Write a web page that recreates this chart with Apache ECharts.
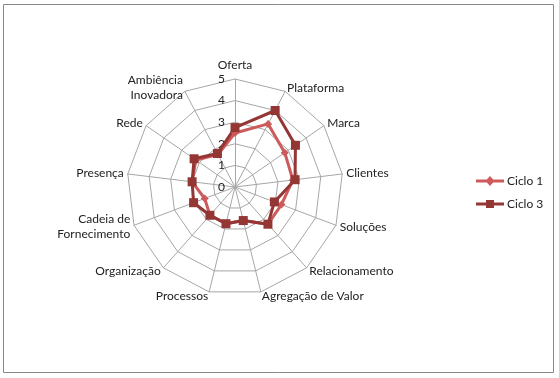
<!DOCTYPE html>
<html>
<head>
<meta charset="utf-8">
<script src="https://cdn.jsdelivr.net/npm/echarts@6/dist/echarts.min.js"></script>
<style>
  html, body { margin: 0; padding: 0; background: #fff; }
  #chart { width: 559px; height: 378px; }
</style>
</head>
<body>
<div id="chart"></div>
<script>
// eixos no sentido horario, a partir do topo
var categories = ['Oferta', 'Plataforma', 'Marca', 'Clientes', 'Soluções', 'Relacionamento',
  'Agregação de Valor', 'Processos', 'Organização', 'Cadeia de\nFornecimento', 'Presença', 'Rede',
  'Ambiência\nInovadora']
var ciclo1 = [2.5, 3.3, 2.8, 2.7, 2.3, 2.3, 1.6, 1.75, 1.75, 1.5, 2.0, 2.2, 1.7]
var ciclo3 = [2.75, 4.0, 3.4, 2.8, 1.95, 2.3, 1.6, 1.75, 1.75, 2.05, 2.0, 2.3, 1.75]
var maxValue = 5

// echarts desenha o radar no sentido anti-horario
function ccw (arr) {
  return [arr[0]].concat(arr.slice(1).reverse())
}

// icones da legenda: linha + marcador (caixa 28x12)
var iconDiamond = 'path://M0,4.5 L28,4.5 L28,7.5 L0,7.5 Z M14,1 L18.5,6 L14,11 L9.5,6 Z M0,0 L0,0.01 M28,12 L28,12.01'
var iconSquare = 'path://M0,4.5 L28,4.5 L28,7.5 L0,7.5 Z M10,2 L18,2 L18,10 L10,10 Z M0,0 L0,0.01 M28,12 L28,12.01'

var myChart = echarts.init(document.getElementById('chart'))
var indicator = ccw(categories).map(function (name, i) {
  var ind = { name: name, min: 0, max: maxValue }
  if (i === 0) {
    ind.axisLabel = { show: true, color: '#222', fontSize: 12, fontFamily: 'Lato', margin: 10 }
  }
  return ind
})

var option = {
  animation: false,
  graphic: [{
    type: 'rect',
    shape: { x: 3.5, y: 4.5, width: 550, height: 368 },
    style: { fill: 'none', stroke: '#888', lineWidth: 1 }
  }],
  legend: {
    orient: 'vertical',
    left: 471,
    top: 170,
    itemGap: 11,
    itemWidth: 28,
    itemHeight: 12,
    textStyle: { color: '#222', fontSize: 12, fontFamily: 'Lato', padding: [0, 0, 0, -2] },
    data: [
      { name: 'Ciclo 1', icon: iconDiamond },
      { name: 'Ciclo 3', icon: iconSquare }
    ]
  },
  radar: {
    center: [235, 187],
    radius: 108,
    startAngle: 90,
    shape: 'polygon',
    splitNumber: 5,
    axisName: { color: '#222', fontSize: 12, fontFamily: 'Lato', lineHeight: 15 },
    nameGap: 4,
    axisLine: { lineStyle: { color: '#a6a6a6' } },
    splitLine: { lineStyle: { color: '#a6a6a6' } },
    splitArea: { show: false },
    axisLabel: { show: false },
    indicator: indicator
  },
  series: [{
    type: 'radar',
    data: [{
      name: 'Ciclo 1',
      value: ccw(ciclo1),
      symbol: 'diamond',
      symbolSize: 8,
      itemStyle: { color: '#cd5b5b' },
      lineStyle: { color: '#cd5b5b', width: 3 }
    }, {
      name: 'Ciclo 3',
      value: ccw(ciclo3),
      symbol: 'rect',
      symbolSize: 9,
      itemStyle: { color: '#943634' },
      lineStyle: { color: '#943634', width: 3 }
    }]
  }]
}
myChart.setOption(option)
</script>
</body>
</html>
